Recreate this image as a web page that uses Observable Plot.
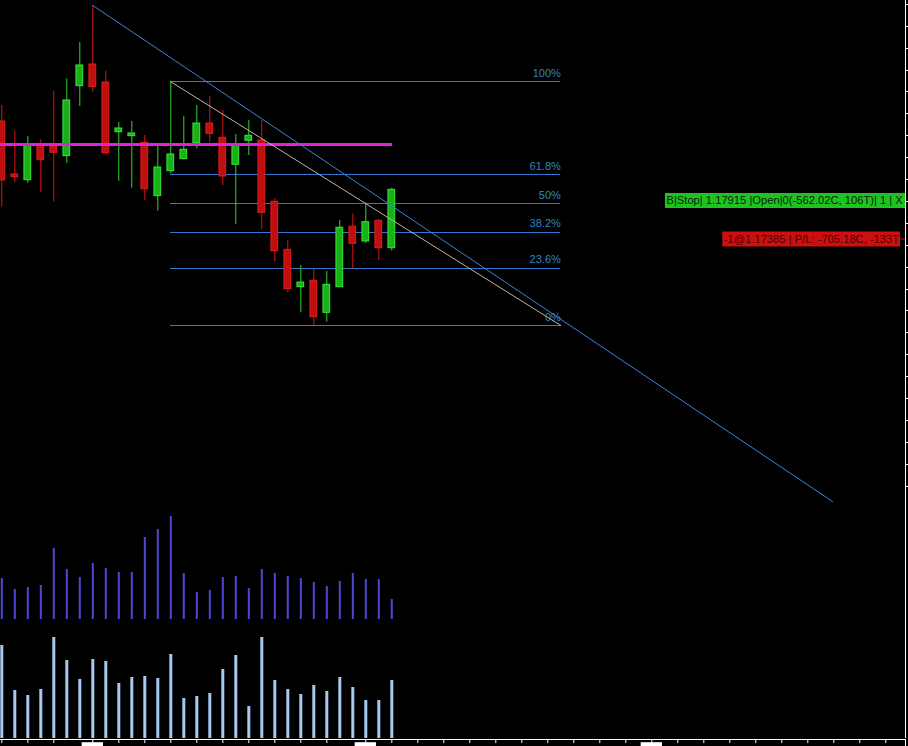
<!DOCTYPE html>
<html><head><meta charset="utf-8">
<script src="https://cdn.jsdelivr.net/npm/d3@7"></script>
<script src="https://cdn.jsdelivr.net/npm/@observablehq/plot@0.6"></script>
<style>
html,body{margin:0;padding:0;background:#000;}
#chart{position:relative;width:908px;height:746px;overflow:hidden;background:#000;}
</style></head><body><div id="chart"></div>
<script>
// ---------- data ----------
const opens  = [1.18996,1.18270,1.18192,1.18677,1.18653,1.18521,1.19480,1.19777,1.19530,1.18849,1.18795,1.18704,1.17973,1.18315,1.18480,1.18699,1.18968,1.18773,1.18403,1.18732,1.18736,1.17896,1.17238,1.16726,1.16814,1.16375,1.16726,1.17553,1.17352,1.17636,1.17260];
const highs  = [1.19215,1.18863,1.18790,1.18745,1.19411,1.19581,1.20078,1.20585,1.19685,1.18982,1.18996,1.18804,1.18653,1.19540,1.19064,1.19215,1.19338,1.19147,1.18818,1.19010,1.19010,1.17941,1.17362,1.17023,1.16982,1.16941,1.17640,1.17732,1.17877,1.17650,1.18082];
const lows   = [1.17822,1.18160,1.18151,1.18023,1.17896,1.18425,1.19201,1.19397,1.18534,1.18178,1.18082,1.17914,1.17767,1.18279,1.18471,1.18622,1.18699,1.18119,1.17585,1.18530,1.17512,1.17078,1.16649,1.16375,1.16201,1.16247,1.16726,1.16973,1.17329,1.17092,1.17219];
const closes = [1.18188,1.18233,1.18667,1.18466,1.18567,1.19284,1.19763,1.19466,1.18562,1.18900,1.18832,1.18068,1.18366,1.18544,1.18608,1.18968,1.18827,1.18242,1.18663,1.18800,1.17745,1.17219,1.16699,1.16790,1.16315,1.16759,1.17540,1.17321,1.17616,1.17260,1.18060];
const volumeA = [41,30,32,34,71,50,42,56,51,47,47,82,90,103,46,27,29,42,43,31,50,46,43,41,37,33,38,46,40,40,20];
const volumeB = [93,48,43,49,101,78,59,79,77,55,61,62,60,84,40,42,45,69,83,32,101,58,49,44,53,47,61,51,38,38,58];

const fibRatios = [0, 0.236, 0.382, 0.5, 0.618, 1];
const fibLabels = ["0%", "23.6%", "38.2%", "50%", "61.8%", "100%"];
const fibFromBar = 13, fibLowBar = 24, fibToBar = 43;

const trendBars   = [7, 63.9];
const trendPrices = [1.20585, 1.1379];

const magentaLevel = 1.18681, magentaEndBar = 30.05;

const priceTicks = [1.140,1.143,1.146,1.149,1.152,1.155,1.158,1.161,1.164,1.167,1.170,1.173,1.176,1.179,1.182,1.185,1.188,1.191,1.194,1.197,1.200,1.203,1.206];
const timeTicks = [0,2,4,7,9,11,13,15,17,19,21,23,25,28,30,32,34,36,38,40,42,44,46,48,50,52,54,56,58,60,62,64,66,68];
const timeMarkers = [7, 28, 50];

const orderPrice = 1.17915;
const orderText = "B|Stop| 1.17915 |Open|0(-562.02C, 106T)| 1 | X";
const positionPrice = 1.17385;
const positionText = "-1@1.17385 | P/L: -705.18C, -133T";

// ---------- layout / style ----------
const W = 908, MR = 3;
const XD = [-0.1, 69.515];
const FONT = "'Liberation Sans', Arial, sans-serif";
const chart = document.getElementById("chart");
const place = (el, top) => { el.style.position = "absolute"; el.style.left = "0px"; el.style.top = top + "px"; chart.append(el); };
const baseStyle = {background: "transparent", color: "white", fontFamily: FONT, overflow: "visible"};

const candles = opens.map((o, i) => ({i, open: o, high: highs[i], low: lows[i], close: closes[i], up: closes[i] >= o}));
const fHigh = highs[fibFromBar], fLow = lows[fibLowBar];
const fibs = fibRatios.map((r, k) => ({price: fLow + r * (fHigh - fLow), label: fibLabels[k]}));
const trend = trendBars.map((b, k) => ({i: b, p: trendPrices[k]}));
const diag = [{i: fibFromBar, p: fHigh}, {i: fibToBar, p: fLow}];

const price = Plot.plot({
  width: W, height: 510, marginLeft: 0, marginRight: MR, marginTop: 0, marginBottom: 0,
  x: {domain: XD, axis: null},
  y: {domain: [1.136671, 1.206534], axis: null},
  style: baseStyle,
  marks: [
    Plot.ruleY(fibs, {y: "price", x1: fibFromBar, x2: fibToBar, stroke: "#3179d0", strokeWidth: 1, shapeRendering: "crispEdges"}),
    Plot.text(fibs, {x: fibToBar, y: "price", text: "label", textAnchor: "end", lineAnchor: "bottom", dy: -5, fill: "#2f86c4", fontSize: 11, fontFamily: FONT}),
    Plot.ruleX(candles, {x: "i", y1: "low", y2: "high", stroke: d => d.up ? "#2fd62f" : "#d81818", strokeWidth: 1}),
    Plot.rect(candles, {x1: d => d.i - 0.26, x2: d => d.i + 0.26, y1: "open", y2: "close",
      fill: d => d.up ? "#19b019" : "#bf1010", stroke: d => d.up ? "#36e636" : "#e21c1c", strokeWidth: 1}),
    Plot.ruleY([magentaLevel], {x1: XD[0], x2: magentaEndBar, stroke: "#e021d8", strokeWidth: 3}),
    Plot.line(diag, {x: "i", y: "p", stroke: "#bdb5a5", strokeWidth: 1}),
    Plot.line(trend, {x: "i", y: "p", stroke: "#3a84dc", strokeWidth: 1}),
    Plot.ruleY(priceTicks, {x1: XD[1], x2: XD[1] + 0.25, stroke: "white", shapeRendering: "crispEdges"}),
    Plot.ruleX([XD[1]], {stroke: "white"}),
    // order label (green)
    Plot.ruleY([orderPrice], {x1: 51.05, x2: XD[1], stroke: "#1fc31f", strokeWidth: 15}),
    Plot.text([orderPrice], {x: 51.05, y: d => d, text: () => orderText, textAnchor: "start", dx: 1, fill: "#0c1a0c", fontSize: 11.2, fontFamily: FONT}),
    // position label (red)
    Plot.ruleY([positionPrice], {x1: 69.13, x2: XD[1], stroke: "#cc1010", strokeWidth: 1}),
    Plot.ruleY([positionPrice], {x1: 55.46, x2: 69.13, stroke: "#cc1010", strokeWidth: 15}),
    Plot.text([positionPrice], {x: 55.46, y: d => d, text: () => positionText, textAnchor: "start", dx: 1, fill: "#4a0000", fontSize: 11.2, fontFamily: FONT})
  ]
});
place(price, 0);

const volA = Plot.plot({
  width: W, height: 109, marginLeft: 0, marginRight: MR, marginTop: 0, marginBottom: 0,
  x: {domain: XD, axis: null}, y: {domain: [0, 109], axis: null}, style: baseStyle,
  marks: [
    Plot.ruleX(volumeA, {x: (d, i) => i, y1: 0, y2: d => d, stroke: "#5046d6", strokeWidth: 2}),
    Plot.ruleX([XD[1]], {stroke: "white"})
  ]
});
place(volA, 510);

const volB = Plot.plot({
  width: W, height: 119, marginLeft: 0, marginRight: MR, marginTop: 0, marginBottom: 0,
  x: {domain: XD, axis: null}, y: {domain: [0, 119], axis: null}, style: baseStyle,
  marks: [
    Plot.ruleX(volumeB, {x: (d, i) => i, y1: 0, y2: d => d, stroke: "#a6c9f0", strokeWidth: 3}),
    Plot.ruleX([XD[1]], {stroke: "white"})
  ]
});
place(volB, 619);

const strip = Plot.plot({
  width: W, height: 9, marginLeft: 0, marginRight: MR, marginTop: 1, marginBottom: 0,
  x: {domain: XD, axis: null}, y: {domain: [0, 1], axis: null}, style: baseStyle,
  marks: [
    Plot.ruleY([1], {x1: XD[0], x2: XD[1], stroke: "white"}),
    Plot.ruleX(timeTicks, {x: d => d, y1: 1, y2: 0.5, stroke: "white"}),
    Plot.rect(timeMarkers, {x1: d => d - 0.82, x2: d => d + 0.82, y1: 0.6, y2: 0, fill: "white"}),
    Plot.ruleX([XD[1]], {y1: 0, y2: 1, stroke: "white"})
  ]
});
place(strip, 738);
</script></body></html>
